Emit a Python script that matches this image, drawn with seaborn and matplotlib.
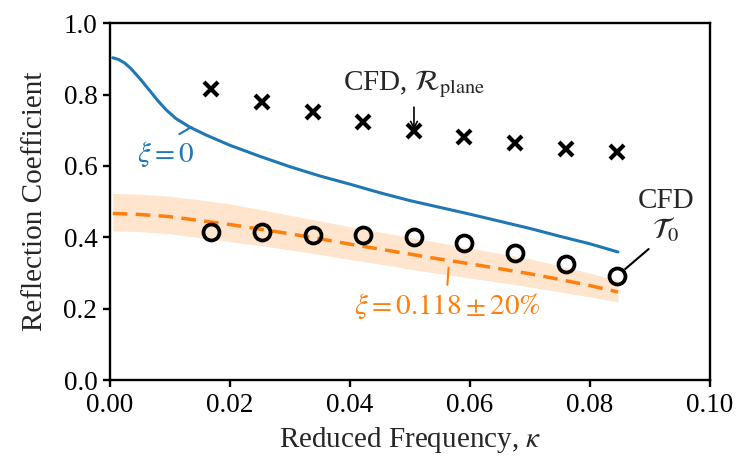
import matplotlib
matplotlib.use("Agg")
import matplotlib.pyplot as plt
import seaborn as sns
import pandas as pd

# CFD sample frequencies and reflection coefficients
kappa_cfd = [0.0169, 0.0253, 0.0338, 0.0422, 0.0507, 0.0591, 0.0676, 0.0760, 0.0845]
R_plane = [0.815, 0.779, 0.751, 0.722, 0.697, 0.681, 0.664, 0.647, 0.638]
T_zero = [0.415, 0.415, 0.406, 0.406, 0.400, 0.384, 0.356, 0.325, 0.291]

# Model curve without losses (xi = 0)
kappa_xi0 = [0.0005, 0.0015, 0.0025, 0.0035, 0.005, 0.0067, 0.008, 0.0094,
             0.011, 0.0133, 0.016, 0.02, 0.025, 0.03, 0.035, 0.04, 0.045,
             0.05, 0.055, 0.06, 0.065, 0.07, 0.075, 0.08, 0.0847]
R_xi0 = [0.903, 0.898, 0.888, 0.873, 0.845, 0.810, 0.783, 0.757,
         0.733, 0.709, 0.687, 0.658, 0.627, 0.598, 0.572, 0.549, 0.525,
         0.503, 0.484, 0.465, 0.445, 0.425, 0.403, 0.382, 0.359]

# Model curve with xi = 0.118 and its +/-20% band
kappa_xi = [0.0005, 0.005, 0.01, 0.015, 0.02, 0.025, 0.03, 0.035, 0.04,
            0.045, 0.05, 0.055, 0.06, 0.065, 0.07, 0.075, 0.08, 0.0847]
R_xi = [0.467, 0.464, 0.458, 0.447, 0.436, 0.423, 0.410, 0.396, 0.381,
        0.367, 0.353, 0.339, 0.326, 0.312, 0.298, 0.282, 0.265, 0.247]
R_xi_hi = [0.523, 0.521, 0.515, 0.505, 0.494, 0.478, 0.462, 0.446, 0.430,
           0.415, 0.400, 0.385, 0.370, 0.355, 0.340, 0.320, 0.300, 0.280]
R_xi_lo = [0.418, 0.416, 0.410, 0.399, 0.388, 0.377, 0.365, 0.352, 0.338,
           0.325, 0.311, 0.298, 0.286, 0.274, 0.261, 0.247, 0.233, 0.219]

x_ticks = [0.00, 0.02, 0.04, 0.06, 0.08, 0.10]
y_ticks = [0.0, 0.2, 0.4, 0.6, 0.8, 1.0]

sns.set_style("ticks")
plt.rcParams["font.family"] = ["Liberation Serif", "DejaVu Serif"]
plt.rcParams["mathtext.fontset"] = "stix"
plt.rcParams["font.size"] = 20

blue = "#1f77b4"
orange = "#ff7f0e"

fig = plt.figure(figsize=(7.37, 4.63), dpi=100)
ax = fig.add_axes([0.149, 0.179, 0.814, 0.771])

df_cfd = pd.DataFrame({"kappa": kappa_cfd, "R": R_plane, "T": T_zero})
df_xi0 = pd.DataFrame({"kappa": kappa_xi0, "R": R_xi0})
df_xi = pd.DataFrame({"kappa": kappa_xi, "R": R_xi, "hi": R_xi_hi, "lo": R_xi_lo})

ax.fill_between(df_xi["kappa"], df_xi["lo"], df_xi["hi"], color=orange,
                alpha=0.2, linewidth=0, zorder=1)
sns.lineplot(data=df_xi, x="kappa", y="R", ax=ax, color=orange, lw=2.5,
             zorder=2, legend=False)
ax.lines[-1].set_dashes([4.2, 2.4])
sns.lineplot(data=df_xi0, x="kappa", y="R", ax=ax, color=blue, lw=2.2,
             zorder=2, legend=False)
ax.plot(df_cfd["kappa"], df_cfd["R"], ls="none", marker="x", ms=10, mew=3.0,
        color="black", zorder=4)
ax.plot(df_cfd["kappa"], df_cfd["T"], ls="none", marker="o", ms=11.5, mew=2.7,
        mfc="none", mec="black", zorder=4)

ax.set_xlim(0, 0.10)
ax.set_ylim(0, 1.0)
ax.set_xticks(x_ticks)
ax.set_yticks(y_ticks)
ax.set_xticklabels([f"{t:.2f}" for t in x_ticks])
ax.set_yticklabels([f"{t:.1f}" for t in y_ticks])
ax.set_xlabel(r"Reduced Frequency, $\kappa$", fontsize=21, labelpad=5)
ax.set_ylabel("Reflection Coefficient", fontsize=21, labelpad=11)

for side in ["left", "right", "top", "bottom"]:
    ax.spines[side].set_linewidth(1.7)
    ax.spines[side].set_color("black")
ax.tick_params(direction="out", length=5, width=1.7, colors="black",
               labelsize=19.5, pad=4)

# Annotations
ax.annotate(r"CFD, $\mathcal{R}_{\mathrm{plane}}$", xy=(0.0507, 0.697),
            xytext=(0.0507, 0.83), ha="center", va="center", fontsize=21,
            arrowprops=dict(arrowstyle="->", color="black", lw=1.2,
                            shrinkA=3, shrinkB=1, mutation_scale=12))
ax.annotate(r"$\xi = 0$", xy=(0.0136, 0.709), xytext=(0.0093, 0.634),
            ha="center", va="center", fontsize=21, color=blue,
            arrowprops=dict(arrowstyle="-", color=blue, lw=1.5,
                            relpos=(0.6, 1.0), shrinkA=2, shrinkB=0))
ax.annotate(r"$\xi = 0.118 \pm 20\%$", xy=(0.0565, 0.323),
            xytext=(0.0562, 0.208), ha="center", va="center", fontsize=21,
            color=orange,
            arrowprops=dict(arrowstyle="-", color=orange, lw=1.5,
                            relpos=(0.5, 1.0), shrinkA=2, shrinkB=2))
ax.annotate("CFD\n" + r"$\mathcal{T}_0$", xy=(0.0845, 0.291),
            xytext=(0.0927, 0.46), ha="center", va="center", fontsize=21,
            linespacing=1.05,
            arrowprops=dict(arrowstyle="-", color="black", lw=1.5,
                            relpos=(0.3, 0.0), shrinkA=2, shrinkB=8))

fig.savefig("out.png", dpi=100)
